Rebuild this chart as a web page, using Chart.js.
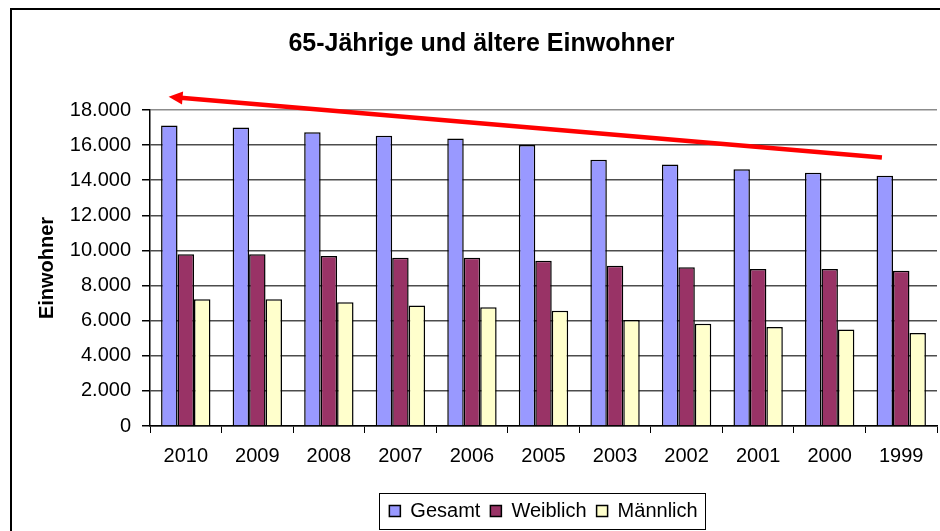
<!DOCTYPE html>
<html>
<head>
<meta charset="utf-8">
<script src="https://cdn.jsdelivr.net/npm/chart.js@4"></script>
<style>
  html, body { margin: 0; padding: 0; background: #fff; overflow: hidden; }
  #wrap { position: relative; width: 940px; height: 531px; }
</style>
</head>
<body>
<div id="wrap"><canvas id="barChart"></canvas></div>
<script>
// data
const years = ['2010', '2009', '2008', '2007', '2006', '2005', '2003', '2002', '2001', '2000', '1999'];
const gesamt = [17110, 17000, 16730, 16540, 16370, 16010, 15160, 14890, 14630, 14430, 14250];
const weiblich = [9780, 9780, 9690, 9590, 9590, 9410, 9130, 9040, 8950, 8950, 8850];
const maennlich = [7220, 7220, 7050, 6860, 6760, 6570, 6040, 5830, 5640, 5500, 5300];

// trend arrow drawn by hand in the original: [year, value]
const arrowFrom = ['1999', 15300];
const arrowTo = ['2010', 18750];

const fontFamily = 'Arial, "Liberation Sans", sans-serif';

function fmt(v) {
    return String(v).replace(/\B(?=(\d{3})+(?!\d))/g, '.');
}

// outer frame of the chart object
const framePlugin = {
    id: 'frame',
    beforeDraw(chart) {
        const c = chart.ctx;
        c.save();
        c.strokeStyle = '#000';
        c.lineWidth = 2;
        c.strokeRect(11, 9, 2000, 2000);
        c.restore();
    }
};

// box around the legend
const legendBoxPlugin = {
    id: 'legendBox',
    afterDraw(chart) {
        const lg = chart.legend;
        if (!lg || !lg.legendHitBoxes.length) return;
        const hb = lg.legendHitBoxes;
        const left = hb[0].left - 10;
        const right = hb[hb.length - 1].left + hb[hb.length - 1].width + 8;
        const c = chart.ctx;
        c.save();
        c.strokeStyle = '#000';
        c.lineWidth = 1;
        c.strokeRect(Math.round(left) + 0.5, lg.top + 2.5, Math.round(right - left), lg.height - 4);
        c.restore();
    }
};

// red trend arrow
const arrowPlugin = {
    id: 'trendArrow',
    afterDatasetsDraw(chart) {
        const xs = chart.scales.x, ys = chart.scales.y;
        const step = xs.width / years.length;
        const x1 = xs.getPixelForValue(years.indexOf(arrowFrom[0])) - 0.27 * step;
        const y1 = ys.getPixelForValue(arrowFrom[1]);
        const x2 = xs.getPixelForValue(years.indexOf(arrowTo[0])) - 0.24 * step;
        const y2 = ys.getPixelForValue(arrowTo[1]);
        const ang = Math.atan2(y2 - y1, x2 - x1);
        const head = 14, half = 6.5;
        const c = chart.ctx;
        c.save();
        c.strokeStyle = '#ff0000';
        c.fillStyle = '#ff0000';
        c.lineWidth = 4.5;
        c.beginPath();
        c.moveTo(x1, y1);
        c.lineTo(x2 - Math.cos(ang) * (head - 2), y2 - Math.sin(ang) * (head - 2));
        c.stroke();
        c.beginPath();
        c.moveTo(x2, y2);
        c.lineTo(x2 - Math.cos(ang) * head + Math.sin(ang) * half, y2 - Math.sin(ang) * head - Math.cos(ang) * half);
        c.lineTo(x2 - Math.cos(ang) * head - Math.sin(ang) * half, y2 - Math.sin(ang) * head + Math.cos(ang) * half);
        c.closePath();
        c.fill();
        c.restore();
    }
};

const ctx = document.getElementById('barChart');

var data = {
    labels: years,
    datasets: [{
        label: 'Gesamt',
        data: gesamt,
        backgroundColor: '#9999ff',
        borderColor: '#000',
        borderWidth: 1.5
    }, {
        label: 'Weiblich',
        data: weiblich,
        backgroundColor: '#993366',
        borderColor: '#000',
        borderWidth: 1.5
    }, {
        label: 'Männlich',
        data: maennlich,
        backgroundColor: '#ffffcc',
        borderColor: '#000',
        borderWidth: 1.5
    }]
};

var options = {
    responsive: true,
    maintainAspectRatio: false,
    animation: false,
    layout: {
        padding: { left: 26, right: 3, top: 12, bottom: 0 }
    },
    datasets: {
        bar: {
            categoryPercentage: 0.69,
            barPercentage: 1.0
        }
    },
    scales: {
        x: {
            offset: true,
            border: { display: true, color: '#000', width: 1.5 },
            grid: {
                display: true,
                offset: true,
                drawOnChartArea: false,
                drawTicks: true,
                tickLength: 7,
                tickColor: '#000',
                color: '#000'
            },
            ticks: {
                color: '#000',
                padding: 11,
                maxRotation: 0,
                font: { family: fontFamily, size: 20 }
            },
            afterFit: (scale) => { scale.height = 65; }
        },
        y: {
            min: 0,
            max: 18000,
            border: { display: true, color: '#000', width: 1.5 },
            grid: {
                color: (c) => c.tick && c.tick.value === 18000 ? '#8c8c8c' : '#4d4d4d',
                lineWidth: 1.5,
                tickLength: 8,
                tickColor: '#000'
            },
            ticks: {
                stepSize: 2000,
                color: '#000',
                padding: 11,
                font: { family: fontFamily, size: 20 },
                callback: (v) => fmt(v)
            },
            title: {
                display: true,
                text: 'Einwohner',
                color: '#000',
                padding: { top: 9, bottom: 0 },
                font: { family: fontFamily, size: 20, weight: 'bold' }
            },
            afterFit: (scale) => { scale.width = 124; }
        }
    },
    plugins: {
        title: {
            display: true,
            text: '65-Jährige und ältere Einwohner',
            color: '#000',
            padding: { top: 17, bottom: 51 },
            font: { family: fontFamily, size: 25, weight: 'bold' }
        },
        legend: {
            display: true,
            position: 'bottom',
            fullSize: false,
            labels: {
                boxWidth: 11,
                boxHeight: 11,
                padding: 10,
                color: '#000',
                font: { family: fontFamily, size: 20 }
            }
        },
        tooltip: {
            enabled: false
        }
    }
};

var chart = new Chart(ctx, {
    type: 'bar',
    data: data,
    options: options,
    plugins: [framePlugin, arrowPlugin, legendBoxPlugin]
});
</script>
</body>
</html>
